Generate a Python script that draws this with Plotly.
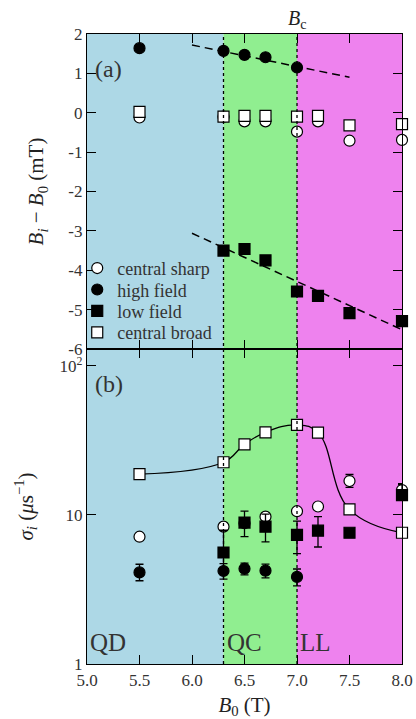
import plotly.graph_objects as go
from plotly.subplots import make_subplots

# ---------------- data ----------------
# panel (a): B_i - B_0 (mT)
B_cs = [5.5, 6.3, 6.5, 6.7, 7.0, 7.2, 7.5, 8.0]
dB_cs = [-0.12, -0.10, -0.22, -0.22, -0.48, -0.22, -0.71, -0.69]
B_hf = [5.5, 6.3, 6.5, 6.7, 7.0]
dB_hf = [1.64, 1.57, 1.47, 1.41, 1.15]
B_lf = [6.3, 6.5, 6.7, 7.0, 7.2, 7.5, 8.0]
dB_lf = [-3.50, -3.46, -3.75, -4.54, -4.65, -5.09, -5.29]
B_cb = [5.5, 6.3, 6.5, 6.7, 7.0, 7.2, 7.5, 8.0]
dB_cb = [0.02, -0.10, -0.08, -0.08, -0.10, -0.08, -0.32, -0.29]
fit_hf_x = [6.0, 7.5]
fit_hf_y = [1.72, 0.90]
fit_lf_x = [6.0, 8.0]
fit_lf_y = [-3.06, -5.51]

# panel (b): sigma_i (1/us)
sig_cs = [7.15, 8.35, 8.8, 9.75, 10.6, 11.4, 16.9, 14.7]
sig_cs_ep = [0.3, 0.3, 0.3, 0.4, 0.3, 0.3, 1.8, 1.5]
sig_cs_em = [0.3, 0.3, 0.3, 0.4, 0.3, 0.3, 1.6, 1.2]
sig_hf = [4.12, 4.21, 4.36, 4.23, 3.84]
sig_hf_ep = [0.55, 0.5, 0.4, 0.45, 0.5]
sig_hf_em = [0.5, 0.5, 0.4, 0.45, 0.5]
sig_lf = [5.6, 8.9, 8.35, 7.35, 7.85, 7.6, 13.6]
sig_lf_ep = [2.3, 1.7, 1.8, 1.75, 1.9, 0.3, 2.4]
sig_lf_em = [1.2, 1.75, 1.75, 1.85, 1.75, 0.3, 1.0]
sig_cb = [18.8, 22.6, 29.8, 35.9, 40.2, 35.7, 10.9, 7.6]

regions = [(5.0, 6.3, "#add8e6", "QD"), (6.3, 7.0, "#90ee90", "QC"), (7.0, 8.0, "#ee82ee", "LL")]
xticks = [5.0, 5.5, 6.0, 6.5, 7.0, 7.5, 8.0]
yticks_a = [2, 1, 0, -1, -2, -3, -4, -5, -6]
ytext_a = ["2", "1", "0", "-1", "-2", "-3", "-4", "-5", "-6"]
yticks_b = [1, 10, 100]
ytext_b = ["1", "10", "10<sup>2</sup>"]
legend_names = ["central sharp", "high field", "low field", "central broad"]
legend_rows_y = [0.628, 0.594, 0.560, 0.526]

FONT = "Liberation Serif"

fig = make_subplots(rows=2, cols=1, shared_xaxes=True, vertical_spacing=0)

def mk(symbol, fill):
    return dict(symbol=symbol, size=11, color=fill, line=dict(color="black", width=1.2))

open_c = mk("circle", "white")
fill_c = mk("circle", "black")
fill_s = mk("square", "black")
open_s = mk("square", "white")
dash = "8px,5px"

# panel (a)
fig.add_trace(go.Scatter(x=fit_hf_x, y=fit_hf_y, mode="lines", line=dict(color="black", width=1.5, dash=dash),
                         showlegend=False), row=1, col=1)
fig.add_trace(go.Scatter(x=fit_lf_x, y=fit_lf_y, mode="lines", line=dict(color="black", width=1.5, dash=dash),
                         showlegend=False), row=1, col=1)
legs = ["legend", "legend2", "legend3", "legend4"]
for (xs, ys, mkr), nm, lg in zip([(B_cs, dB_cs, open_c), (B_hf, dB_hf, fill_c), (B_lf, dB_lf, fill_s),
                                   (B_cb, dB_cb, open_s)], legend_names, legs):
    fig.add_trace(go.Scatter(x=xs, y=ys, mode="markers", marker=mkr, name=nm, legend=lg, cliponaxis=False),
                  row=1, col=1)

# panel (b)
def eb(p, m):
    return dict(type="data", array=p, arrayminus=m, color="black", thickness=1.3, width=4)

fig.add_trace(go.Scatter(x=B_cs, y=sig_cs, mode="markers", marker=open_c, error_y=eb(sig_cs_ep, sig_cs_em),
                         showlegend=False, cliponaxis=False), row=2, col=1)
fig.add_trace(go.Scatter(x=B_hf, y=sig_hf, mode="markers", marker=fill_c, error_y=eb(sig_hf_ep, sig_hf_em),
                         showlegend=False, cliponaxis=False), row=2, col=1)
fig.add_trace(go.Scatter(x=B_lf, y=sig_lf, mode="markers", marker=fill_s, error_y=eb(sig_lf_ep, sig_lf_em),
                         showlegend=False, cliponaxis=False), row=2, col=1)
fig.add_trace(go.Scatter(x=B_cb, y=sig_cb, mode="lines+markers", marker=open_s,
                         line=dict(color="black", width=1.3, shape="spline", smoothing=1.2),
                         showlegend=False, cliponaxis=False), row=2, col=1)

# backgrounds
for x0, x1, col, lab in regions:
    for yr in ["y domain", "y2 domain"]:
        fig.add_shape(type="rect", xref="x", yref=yr, x0=x0, x1=x1, y0=0, y1=1,
                      fillcolor=col, line=dict(width=0), layer="below")
for xv in [6.3, 7.0]:
    fig.add_shape(type="line", xref="x", yref="paper", x0=xv, x1=xv, y0=0, y1=1,
                  line=dict(color="black", width=1.3, dash="dot"), layer="above")

# region labels
for x0, x1, col, lab in regions:
    fig.add_annotation(x=x0, y=0, xref="x", yref="paper", text=lab, showarrow=False,
                       xanchor="left", yanchor="bottom", xshift=1, yshift=6,
                       font=dict(family=FONT, size=25, color="#333"))
fig.add_annotation(x=0, y=1, xref="paper", yref="paper", text="(a)", showarrow=False,
                   xanchor="left", yanchor="top", xshift=6, yshift=-20,
                   font=dict(family=FONT, size=24, color="#333"))
fig.add_annotation(x=0, y=0.5, xref="paper", yref="paper", text="(b)", showarrow=False,
                   xanchor="left", yanchor="top", xshift=6, yshift=-20,
                   font=dict(family=FONT, size=24, color="#333"))
fig.add_annotation(x=7.0, y=1, xref="x", yref="paper", text="<i>B</i><sub>c</sub>", showarrow=False,
                   xanchor="center", yanchor="bottom", yshift=0,
                   font=dict(family=FONT, size=20, color="#222"))

axis_common = dict(showline=True, linecolor="black", linewidth=1.4, mirror="ticks",
                   ticks="inside", ticklen=9, tickwidth=1.3, tickcolor="black",
                   showgrid=False, zeroline=False, automargin=False,
                   tickfont=dict(family=FONT, size=17, color="#333"))

fig.update_xaxes(range=[5.0, 8.0], tickvals=xticks, ticktext=[f"{v:.1f}" for v in xticks], **axis_common)
fig.update_xaxes(showticklabels=False, row=1, col=1)
fig.update_xaxes(title=dict(text="<i>B</i><sub>0</sub> (T)", font=dict(family=FONT, size=21, color="#222"),
                            standoff=9), row=2, col=1)
fig.update_yaxes(range=[-6, 2], tickvals=yticks_a, ticktext=ytext_a,
                 title=dict(text="<i>B<sub>i</sub></i> − <i>B</i><sub>0</sub> (mT)",
                            font=dict(family=FONT, size=21, color="#222"), standoff=18),
                 row=1, col=1, **axis_common)
fig.update_yaxes(type="log", range=[0, 2.114], tickvals=yticks_b, ticktext=ytext_b,
                 title=dict(text="<i>σ<sub>i</sub></i> (<i>μ</i>s<sup>−1</sup>)",
                            font=dict(family=FONT, size=21, color="#222"), standoff=20),
                 row=2, col=1, **axis_common)

legend_common = dict(x=-0.031, xanchor="left", yanchor="middle", bgcolor="rgba(0,0,0,0)",
                     borderwidth=0, font=dict(family=FONT, size=18, color="#333"))
fig.update_layout(
    width=416, height=719,
    margin=dict(l=87, r=14, t=34, b=55, autoexpand=False),
    paper_bgcolor="white", plot_bgcolor="white",
    font=dict(family=FONT),
    legend=dict(y=legend_rows_y[0], **legend_common),
    legend2=dict(y=legend_rows_y[1], **legend_common),
    legend3=dict(y=legend_rows_y[2], **legend_common),
    legend4=dict(y=legend_rows_y[3], **legend_common),
)

fig.write_html("out.html", config={"displayModeBar": False},
               post_script="document.body.style.margin='0px';")
